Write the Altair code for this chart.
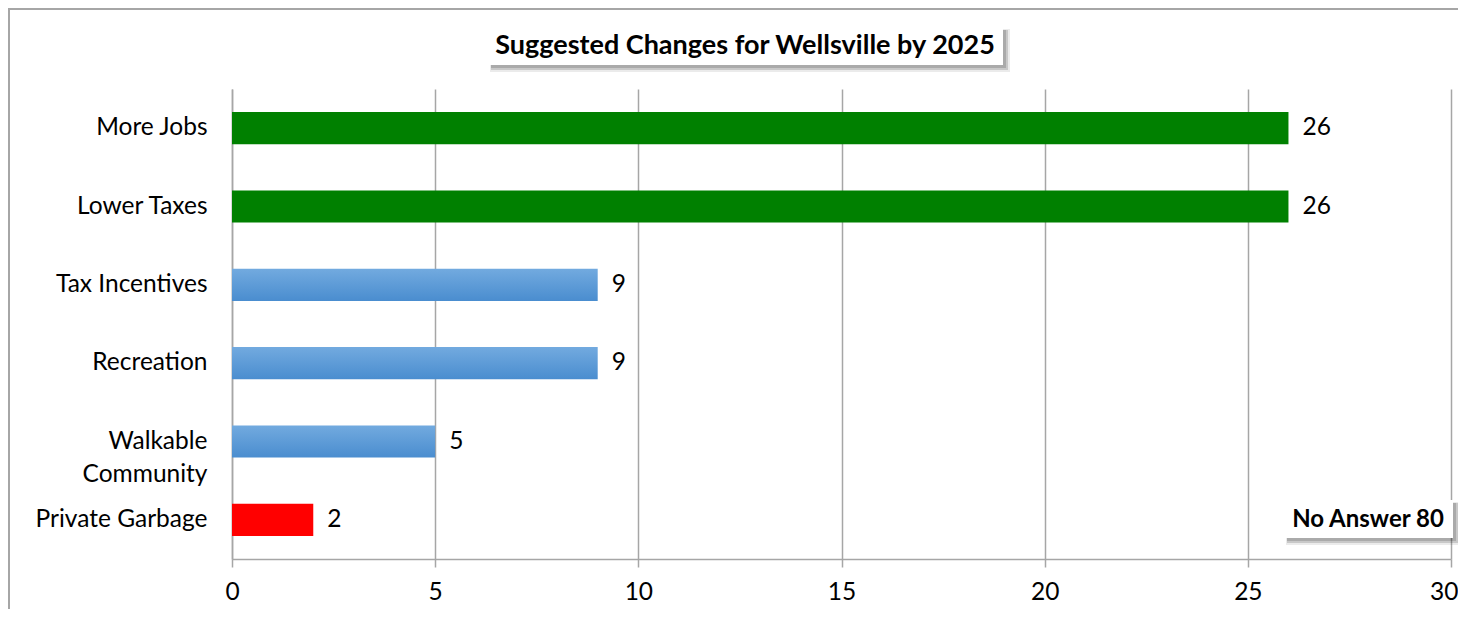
import altair as alt
import pandas as pd

categories = ["More Jobs", "Lower Taxes", "Tax Incentives", "Recreation",
              "Walkable\nCommunity", "Private Garbage"]
values = [26, 26, 9, 9, 5, 2]
groups = ["top", "top", "mid", "mid", "mid", "low"]
x_ticks = [0, 5, 10, 15, 20, 25, 30]
title_text = "Suggested Changes for Wellsville by 2025"
note_text = "No Answer 80"

df = pd.DataFrame({"category": categories, "value": values, "group": groups})

W, H = 1219, 470
FONT = "Lato"
GRID = "#a6a6a6"
FS = 24.5

y_enc = alt.Y(
    "category:N", sort=categories,
    scale=alt.Scale(paddingInner=0.59, paddingOuter=0.295),
    axis=alt.Axis(title=None, labelExpr="split(datum.label, '\\n')", ticks=False,
                  domainColor=GRID, domainWidth=1.5, labelFontSize=FS,
                  labelFont=FONT, labelColor="black", labelPadding=25,
                  labelLineHeight=33, grid=False),
)
x_enc = alt.X(
    "value:Q", scale=alt.Scale(domain=[0, 30], nice=False, zero=True),
    axis=alt.Axis(title=None, values=x_ticks, grid=True, gridColor=GRID,
                  gridWidth=1.5, domainColor=GRID, domainWidth=1.5,
                  tickColor=GRID, tickWidth=1.5, tickSize=8, labelPadding=13,
                  labelFlush=True, labelFlushOffset=7, labelFontSize=FS,
                  labelFont=FONT, labelColor="black"),
)

base = alt.Chart(df)

solid = base.mark_bar().encode(
    x=x_enc, y=y_enc,
    color=alt.Color("group:N", scale=alt.Scale(domain=["top", "low"],
                                               range=["#008000", "#ff0000"]),
                    legend=None),
).transform_filter(alt.datum.group != "mid")

grad = base.mark_bar(
    color=alt.Gradient(gradient="linear",
                       stops=[alt.GradientStop(color="#72aadf", offset=0),
                              alt.GradientStop(color="#4a8dcf", offset=1)],
                       x1=0, x2=0, y1=0, y2=1)
).encode(x="value:Q", y=alt.Y("category:N", sort=categories)).transform_filter(
    alt.datum.group == "mid")

labels = base.mark_text(align="left", baseline="middle", dx=14, fontSize=FS,
                        font=FONT, color="black").encode(
    x="value:Q", y=alt.Y("category:N", sort=categories), text="value:Q")

tdf = alt.Chart(pd.DataFrame({"t": [title_text]}))
ndf = alt.Chart(pd.DataFrame({"t": [note_text]}))

border = tdf.mark_rect(fillOpacity=0, stroke="#a6a6a6", strokeWidth=2).encode(
    x=alt.value(-223), x2=alt.value(W + 200), y=alt.value(-80), y2=alt.value(H + 200))


def box(chart, x0, x1, y0, y1):
    s1 = chart.mark_rect(color="#000000", opacity=0.08).encode(
        x=alt.value(x0 + 2), x2=alt.value(x1 + 7), y=alt.value(y0 + 2), y2=alt.value(y1 + 7))
    s2 = chart.mark_rect(color="#000000", opacity=0.15).encode(
        x=alt.value(x0 + 3), x2=alt.value(x1 + 5), y=alt.value(y0 + 3), y2=alt.value(y1 + 5))
    s3 = chart.mark_rect(color="#000000", opacity=0.15).encode(
        x=alt.value(x0 + 3), x2=alt.value(x1 + 3), y=alt.value(y0 + 3), y2=alt.value(y1 + 3))
    w = chart.mark_rect(color="white").encode(
        x=alt.value(x0), x2=alt.value(x1), y=alt.value(y0), y2=alt.value(y1))
    return [s1, s2, s3, w]


title_layers = box(tdf, 256, 771, -62, -24)
title_txt = tdf.mark_text(fontSize=27, fontWeight="bold", font=FONT, color="black",
                          baseline="middle", align="center").encode(
    x=alt.value(513), y=alt.value(-43), text="t:N")

note_layers = box(ndf, 1052, 1221, 411, 449)
note_txt = ndf.mark_text(fontSize=24, fontWeight="bold", font=FONT, color="black",
                         baseline="middle", align="center").encode(
    x=alt.value(1136), y=alt.value(431), text="t:N")

chart = alt.layer(border, solid, grad, labels, *title_layers, title_txt,
                  *note_layers, note_txt).properties(
    width=W, height=H,
    padding={"left": 224, "top": 81, "right": 7, "bottom": 50},
    autosize=alt.AutoSizeParams(type="none"),
    background="white",
).configure_view(stroke=None)

chart.save("out.html", embed_options={"renderer": "svg", "actions": False})
